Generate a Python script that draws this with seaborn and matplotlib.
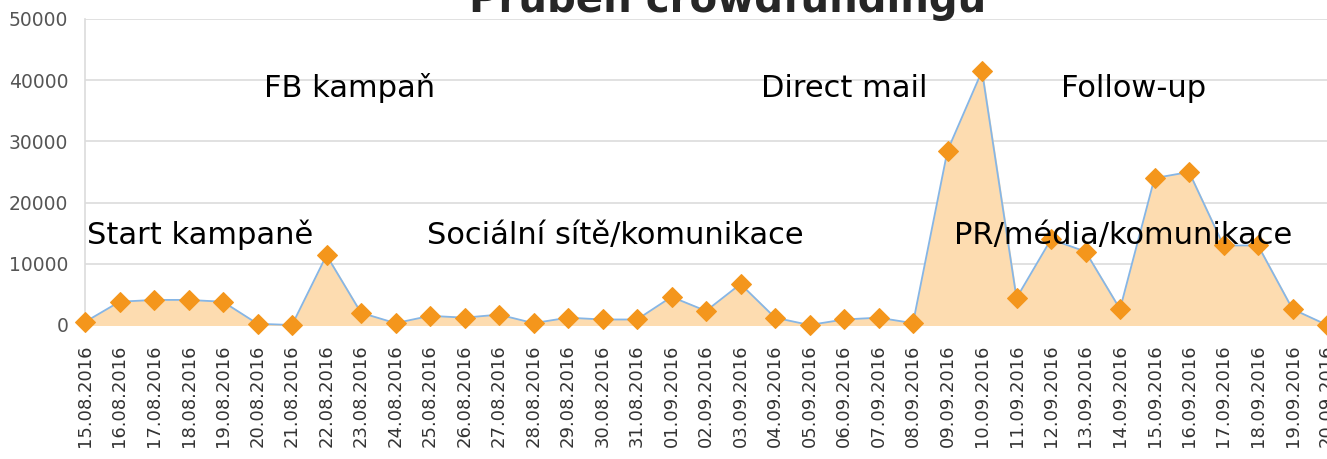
import pandas as pd
import seaborn as sns
import matplotlib.pyplot as plt

# Daily amounts collected during the campaign
dates = ['15.08.2016', '16.08.2016', '17.08.2016', '18.08.2016', '19.08.2016',
         '20.08.2016', '21.08.2016', '22.08.2016', '23.08.2016', '24.08.2016',
         '25.08.2016', '26.08.2016', '27.08.2016', '28.08.2016', '29.08.2016',
         '30.08.2016', '31.08.2016', '01.09.2016', '02.09.2016', '03.09.2016',
         '04.09.2016', '05.09.2016', '06.09.2016', '07.09.2016', '08.09.2016',
         '09.09.2016', '10.09.2016', '11.09.2016', '12.09.2016', '13.09.2016',
         '14.09.2016', '15.09.2016', '16.09.2016', '17.09.2016', '18.09.2016',
         '19.09.2016', '20.09.2016']
amounts = [500, 3800, 4100, 4100, 3800, 200, 0, 11400, 2000, 300,
           1500, 1200, 1700, 300, 1200, 900, 900, 4600, 2300, 6700,
           1200, 0, 900, 1200, 300, 28500, 41500, 4400, 14000, 12000,
           2600, 24000, 25000, 13000, 13000, 2600, 0]

# Phase labels: text, start position (date index), height
phase_labels = ['Start kampaně', 'FB kampaň', 'Sociální sítě/komunikace',
                'Direct mail', 'Follow-up', 'PR/média/komunikace']
phase_x = [0.05, 5.2, 9.9, 19.6, 28.3, 25.2]
phase_y = [14700, 38700, 14700, 38700, 38700, 14700]

df = pd.DataFrame({'pos': range(len(dates)), 'date': dates, 'amount': amounts})

sns.set_style('white')
fig = plt.figure(figsize=(13.27, 4.59), dpi=100)
ax = fig.add_axes([85 / 1327, 1 - 325 / 459, 1 - 85 / 1327, (325 - 19) / 459])

ax.fill_between(df['pos'], df['amount'], color='#fddcb0', zorder=1)
sns.lineplot(data=df, x='pos', y='amount', ax=ax, color='#86b6e6', linewidth=1.3,
             marker='D', markersize=10, markerfacecolor='#f4961c',
             markeredgecolor='#f4961c', zorder=3, clip_on=False)

ax.set_xlim(0, len(dates) - 1)
ax.set_ylim(0, 50000)
ax.set_yticks(range(0, 50001, 10000))
ax.set_xticks(df['pos'])
ax.set_xticklabels(dates, rotation=90, fontsize=13, color='#333333')
ax.tick_params(axis='y', labelsize=13.5, colors='#555555', length=0, pad=12)
ax.tick_params(axis='x', length=0, pad=14)
ax.grid(axis='y', color='#dcdcdc', linewidth=1.2)
ax.set_axisbelow(True)
for side in ['top', 'right', 'bottom']:
    ax.spines[side].set_visible(False)
ax.spines['left'].set_color('#dcdcdc')
ax.spines['left'].set_linewidth(1.2)
ax.set_xlabel('')
ax.set_ylabel('')

for text, x, y in zip(phase_labels, phase_x, phase_y):
    ax.text(x, y, text, fontsize=22, va='center', ha='left', color='black', zorder=4)

fig.text(728 / 1327, 1 - 12 / 459, 'Průběh crowdfundingu', fontsize=29,
         fontweight='bold', ha='center', va='baseline')

fig.savefig('out.png', dpi=100)
